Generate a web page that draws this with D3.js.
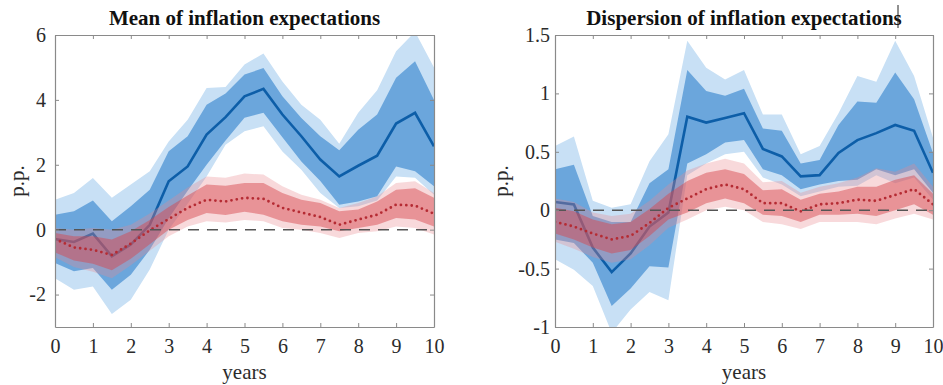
<!DOCTYPE html>
<html>
<head>
<meta charset="utf-8">
<script src="https://cdn.jsdelivr.net/npm/d3@7"></script>
<style>
  body { margin: 0; background: #fff; }
  svg { display: block; }
  text { font-family: "Liberation Serif", "Tinos", "Times New Roman", "DejaVu Serif", serif; }
</style>
</head>
<body>
<div id="canvas"></div>
<script>

var years = [0,0.5,1,1.5,2,2.5,3,3.5,4,4.5,5,5.5,6,6.5,7,7.5,8,8.5,9,9.5,10];
var xTicks = [0,1,2,3,4,5,6,7,8,9,10];

// mean of inflation expectations
var meanBlue     = [-0.29,-0.38,-0.12,-0.82,-0.46,0.15,1.49,1.95,2.93,3.47,4.11,4.34,3.55,2.88,2.16,1.64,1.97,2.28,3.27,3.6,2.57];
var meanBlueHi68 = [0.46,0.57,0.9,0.26,0.72,1.23,2.42,2.88,3.85,4.2,4.78,4.98,4.11,3.44,2.88,2.45,3.08,3.55,4.68,5.19,4.0];
var meanBlueLo68 = [-1.03,-1.28,-1.18,-1.85,-1.39,-0.62,0.35,1.2,2.0,2.75,3.45,3.6,2.85,2.1,1.5,0.77,0.87,1.03,1.95,1.8,1.34];
var meanBlueHi90 = [0.92,1.13,1.59,0.98,1.39,1.8,2.72,3.39,4.37,4.4,5.09,5.43,4.57,3.85,3.39,2.65,3.6,4.3,5.5,6.1,5.0];
var meanBlueLo90 = [-1.5,-1.85,-1.75,-2.6,-2.16,-1.23,0.0,0.8,1.64,2.62,3.03,3.19,2.41,1.85,1.13,0.67,0.72,0.9,1.64,1.6,1.08];
var meanRed      = [-0.29,-0.55,-0.62,-0.78,-0.43,-0.02,0.33,0.67,0.92,0.87,0.98,0.95,0.67,0.53,0.39,0.15,0.31,0.46,0.77,0.74,0.49];
var meanRedHi68  = [-0.1,-0.2,-0.2,-0.3,-0.05,0.3,0.7,1.05,1.39,1.35,1.44,1.44,1.13,0.92,0.82,0.57,0.62,0.87,1.23,1.28,0.98];
var meanRedLo68  = [-0.7,-0.95,-1.05,-1.25,-0.9,-0.45,0.0,0.3,0.51,0.45,0.55,0.46,0.26,0.15,0.1,-0.05,0.05,0.15,0.36,0.31,0.1];
var meanRedHi90  = [0.05,0.0,0.05,0.0,0.15,0.5,0.9,1.3,1.64,1.6,1.73,1.7,1.34,1.08,0.92,0.67,0.82,1.03,1.44,1.49,1.13];
var meanRedLo90  = [-0.85,-1.15,-1.3,-1.5,-1.1,-0.65,-0.2,0.1,0.26,0.22,0.3,0.26,0.05,0.0,-0.1,-0.26,-0.1,-0.05,0.1,0.05,-0.15];
var meanTicks    = [-2,0,2,4,6];

// dispersion of inflation expectations
var dispBlue     = [0.07,0.05,-0.32,-0.53,-0.37,-0.14,-0.02,0.8,0.75,0.79,0.83,0.525,0.46,0.29,0.3,0.49,0.6,0.66,0.73,0.68,0.32];
var dispBlueHi68 = [0.35,0.39,-0.05,-0.1,-0.1,0.23,0.35,1.2,1.02,0.98,1.04,0.7,0.68,0.4,0.43,0.73,0.93,0.92,1.18,0.95,0.49];
var dispBlueLo68 = [-0.25,-0.28,-0.45,-0.82,-0.67,-0.48,-0.49,0.4,0.48,0.58,0.6,0.35,0.3,0.18,0.22,0.25,0.26,0.35,0.3,0.35,0.15];
var dispBlueHi90 = [0.55,0.63,0.08,0.02,0.05,0.42,0.65,1.45,1.22,1.12,1.2,0.82,0.82,0.48,0.55,0.83,1.15,1.1,1.45,1.15,0.62];
var dispBlueLo90 = [-0.42,-0.51,-0.65,-1.05,-0.85,-0.7,-0.77,0.3,0.4,0.48,0.5,0.28,0.22,0.12,0.16,0.2,0.21,0.3,0.23,0.28,0.09];
var dispRed      = [-0.1,-0.14,-0.2,-0.25,-0.22,-0.11,0.02,0.1,0.18,0.22,0.18,0.06,0.06,-0.01,0.05,0.06,0.09,0.08,0.13,0.18,0.05];
var dispRedHi68  = [0.02,-0.01,-0.08,-0.12,-0.1,0.01,0.14,0.25,0.32,0.35,0.31,0.17,0.18,0.09,0.14,0.16,0.2,0.2,0.26,0.3,0.14];
var dispRedLo68  = [-0.2,-0.25,-0.32,-0.37,-0.34,-0.22,-0.08,-0.02,0.06,0.1,0.06,-0.04,-0.05,-0.1,-0.04,-0.04,-0.03,-0.05,0.0,0.05,-0.04];
var dispRedHi90  = [0.1,0.07,-0.02,-0.05,-0.03,0.08,0.22,0.34,0.4,0.44,0.4,0.24,0.25,0.15,0.2,0.23,0.28,0.36,0.33,0.4,0.2];
var dispRedLo90  = [-0.27,-0.33,-0.4,-0.45,-0.42,-0.3,-0.15,-0.08,0.0,0.03,0.0,-0.1,-0.12,-0.16,-0.1,-0.1,-0.1,-0.12,-0.07,-0.03,-0.08];
var dispTicks    = [-1,-0.5,0,0.5,1,1.5];


var width = 943;
var height = 385;
var serif = "'Liberation Serif', 'Tinos', 'Times New Roman', 'DejaVu Serif', serif";

var svgContainer = d3.select("#canvas").append("svg")
                     .attr("width", width)
                     .attr("height", height)
                     .attr("font-family", serif);


function drawPanel(id, left, right, yMin, yMax, yTicks, title, blue, red, labelX, tickPad){

	var top = 35, bottom = 327;

	var x = d3.scaleLinear().domain([0, 10]).range([left, right]);
	var y = d3.scaleLinear().domain([yMin, yMax]).range([bottom, top]);

	svgContainer.append("clipPath").attr("id", id)
	            .append("rect")
	            .attr("x", left).attr("y", top)
	            .attr("width", right - left).attr("height", bottom - top);

	var g = svgContainer.append("g").attr("clip-path", "url(#" + id + ")");

	function band(lo, hi){
		return d3.area()
		         .x(function(d, i){ return x(years[i]); })
		         .y0(function(d, i){ return y(lo[i]); })
		         .y1(function(d, i){ return y(hi[i]); })(years);
	}
	function line(v){
		return d3.line()
		         .x(function(d, i){ return x(years[i]); })
		         .y(function(d, i){ return y(v[i]); })(years);
	}

	g.append("path").attr("d", band(blue.lo90, blue.hi90)).attr("fill", "#c8e0f5");
	g.append("path").attr("d", band(blue.lo68, blue.hi68)).attr("fill", "#6ba6dc");
	g.append("path").attr("d", line(blue.mid))
	 .attr("fill", "none").attr("stroke", "#0d5ea8").attr("stroke-width", 2.6);

	g.append("path").attr("d", band(red.lo90, red.hi90)).attr("fill", "#ea8a8e").attr("opacity", 0.32);
	g.append("path").attr("d", band(red.lo68, red.hi68)).attr("fill", "#d8474d").attr("opacity", 0.48);
	g.append("path").attr("d", line(red.mid))
	 .attr("fill", "none").attr("stroke", "#b52b33").attr("stroke-width", 2.8)
	 .attr("stroke-linecap", "round").attr("stroke-dasharray", "0,5.4");

	// zero line
	g.append("line")
	 .attr("x1", left).attr("x2", right)
	 .attr("y1", y(0)).attr("y2", y(0))
	 .attr("stroke", "#555").attr("stroke-width", 1.5)
	 .attr("stroke-dasharray", "11,8");

	// axes box with inner ticks on all sides
	var axisColor = "#8a8a8a";

	var xb = svgContainer.append("g").attr("transform", "translate(0," + bottom + ")")
	                     .call(d3.axisBottom(x).tickValues(xTicks).tickSizeInner(-4).tickSizeOuter(0).tickPadding(12));
	var xt = svgContainer.append("g").attr("transform", "translate(0," + top + ")")
	                     .call(d3.axisTop(x).tickValues(xTicks).tickSizeInner(-4).tickSizeOuter(0).tickFormat(""));
	var yl = svgContainer.append("g").attr("transform", "translate(" + left + ",0)")
	                     .call(d3.axisLeft(y).tickValues(yTicks).tickSizeInner(-4).tickSizeOuter(0).tickPadding(tickPad)
	                             .tickFormat(function(d){ return String(d); }));
	var yr = svgContainer.append("g").attr("transform", "translate(" + right + ",0)")
	                     .call(d3.axisRight(y).tickValues(yTicks).tickSizeInner(-4).tickSizeOuter(0).tickFormat(""));

	[xb, xt, yl, yr].forEach(function(a){
		a.attr("font-family", serif).attr("font-size", 20);
		a.selectAll("path").attr("stroke", axisColor).attr("stroke-width", 1.2);
		a.selectAll("line").attr("stroke", axisColor);
		a.selectAll("text").attr("fill", "#2b2b2b");
	});

	svgContainer.append("text")
	            .attr("x", (left + right) / 2).attr("y", 25)
	            .attr("text-anchor", "middle")
	            .attr("font-size", 21).attr("font-weight", "bold")
	            .attr("fill", "#111")
	            .text(title);

	svgContainer.append("text")
	            .attr("x", (left + right) / 2).attr("y", 379)
	            .attr("text-anchor", "middle")
	            .attr("font-size", 21)
	            .attr("fill", "#2b2b2b")
	            .text("years");

	svgContainer.append("text")
	            .attr("transform", "translate(" + labelX + "," + ((top + bottom) / 2) + ") rotate(-90)")
	            .attr("text-anchor", "middle")
	            .attr("font-size", 21)
	            .attr("fill", "#2b2b2b")
	            .text("p.p.");
}


drawPanel("clipMean", 55, 434, -3, 6, meanTicks, "Mean of inflation expectations",
	{mid: meanBlue, hi68: meanBlueHi68, lo68: meanBlueLo68, hi90: meanBlueHi90, lo90: meanBlueLo90},
	{mid: meanRed, hi68: meanRedHi68, lo68: meanRedLo68, hi90: meanRedHi90, lo90: meanRedLo90},
	24, 9);

drawPanel("clipDisp", 555, 933, -1, 1.5, dispTicks, "Dispersion of inflation expectations",
	{mid: dispBlue, hi68: dispBlueHi68, lo68: dispBlueLo68, hi90: dispBlueHi90, lo90: dispBlueLo90},
	{mid: dispRed, hi68: dispRedHi68, lo68: dispRedLo68, hi90: dispRedHi90, lo90: dispRedLo90},
	508, 5);

// text cursor left in the screenshot
svgContainer.append("line")
            .attr("x1", 898).attr("x2", 898).attr("y1", 5).attr("y2", 28)
            .attr("stroke", "#222").attr("stroke-width", 1);

</script>
</body>
</html>
